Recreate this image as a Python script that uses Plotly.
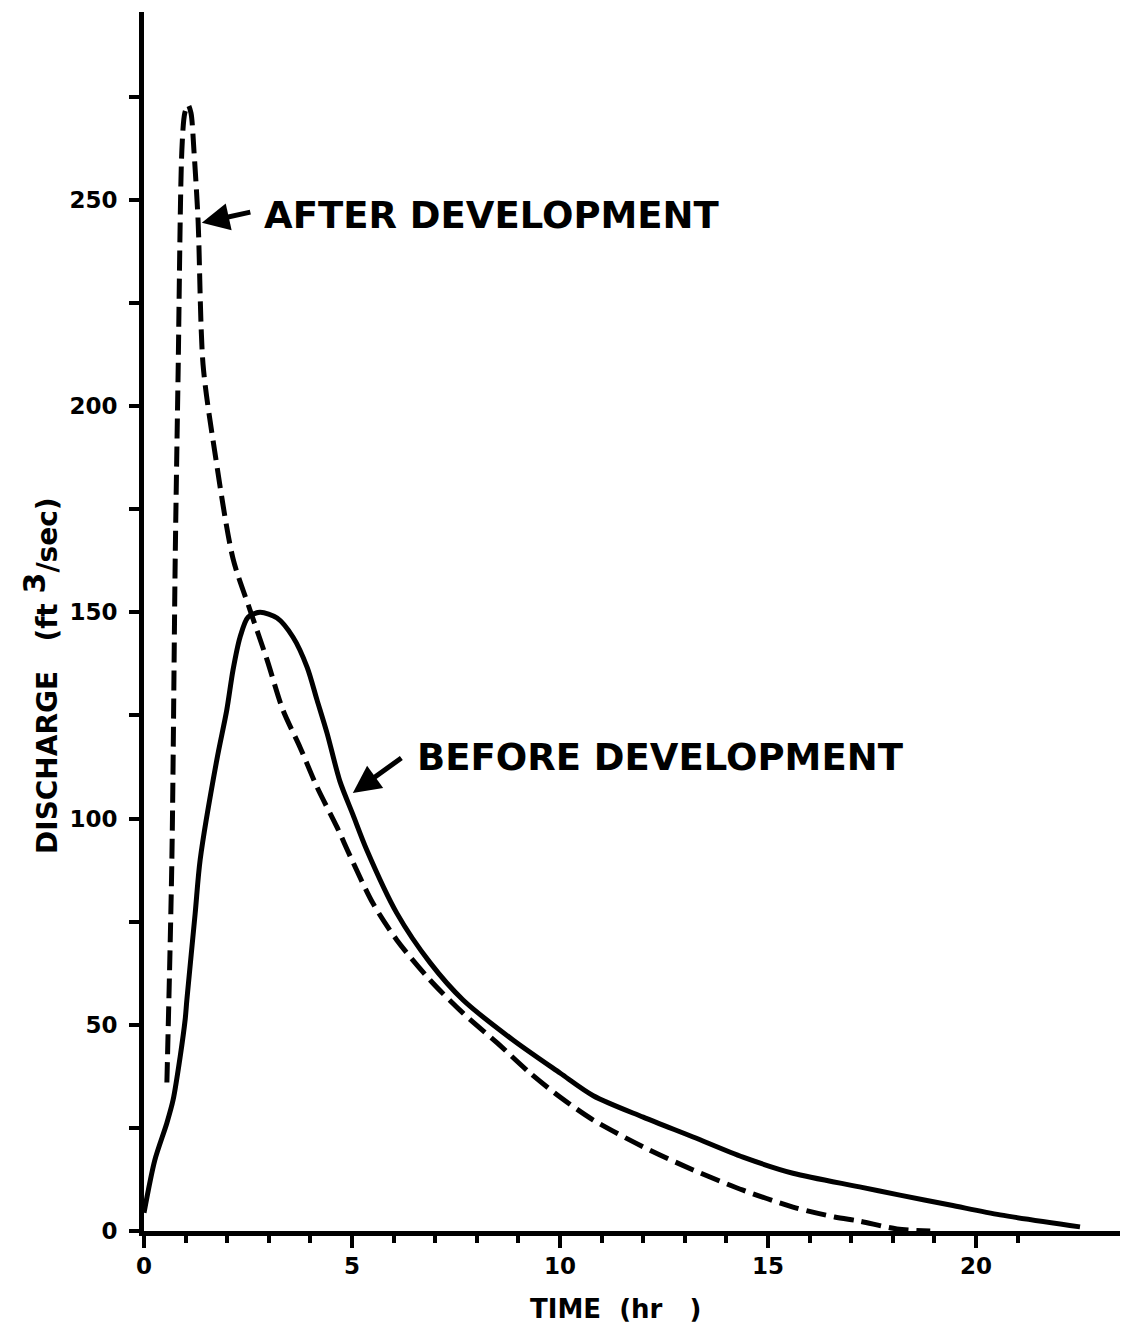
import plotly.graph_objects as go

# ---- data ----
after_t = [0.55, 0.67, 0.75, 0.82, 0.91, 0.98, 1.06, 1.13, 1.2, 1.3, 1.42, 1.7, 2.14, 2.55,
           2.96, 3.34, 3.75, 4.16, 4.64, 4.95, 5.5, 6.08, 6.88, 7.67, 8.49, 9.28, 10.0,
           10.8, 12.0, 13.2, 14.4, 15.6, 16.6, 17.2, 18.1, 18.9]
after_q = [36, 90, 162.7, 208, 262, 271, 273, 271, 262, 245, 210, 189, 163, 150.5,
           138.4, 126.3, 117.3, 107.6, 97.9, 91, 79.5, 70.5, 60.8, 52.8, 45.6, 38.3, 32.5,
           26.9, 20.4, 14.8, 9.9, 5.8, 3.4, 2.4, 0.5, 0.0]

before_t = [0.0, 0.26, 0.55, 0.7, 0.87, 0.99, 1.03, 1.23, 1.35, 1.75, 1.99, 2.14, 2.31, 2.5,
            2.79, 3.2, 3.58, 3.92, 4.16, 4.4, 4.71, 5.02, 5.35, 6.08, 6.88, 7.67, 8.87,
            10.0, 10.8, 12.0, 13.2, 14.4, 15.6, 17.2, 18.17, 19.38, 20.58, 22.5]
before_q = [4.4, 17.2, 26.2, 31.8, 42.3, 51.3, 56, 77, 90, 114.2, 126.3, 136, 144, 148.8,
            150, 148.6, 144, 136.7, 128.7, 120.7, 109, 101, 92.5, 77, 65, 56, 46.3,
            38.3, 32.8, 27.6, 22.8, 17.9, 14, 10.7, 8.7, 6.3, 3.9, 1.0]

x_major = [0, 5, 10, 15, 20]
x_major_text = ["0", "5", "10", "15", "20"]
x_minor = list(range(0, 22))
y_ticks = [0, 25, 50, 75, 100, 125, 150, 175, 200, 225, 250, 275]
y_ticktext = ["0", "", "50", "", "100", "", "150", "", "200", "", "250", ""]

FONT = "DejaVu Sans"
OFF = 8  # page body margin

W, H = 1130 - 2 * OFF, 1335 - 2 * OFF
L = 144 - OFF
T = 12 - OFF
R = W - (1120 - OFF)
B = H - (1231 - OFF)
PW, PH = W - L - R, H - T - B
XPX, YPX = 41.6, 4.125


def paper_x(px):
    return (px - OFF - L) / PW


def paper_y(py):
    return 1 - (py - OFF - T) / PH


fig = go.Figure()
fig.add_trace(go.Scatter(x=after_t, y=after_q, mode="lines",
                         line=dict(color="black", width=5, dash="20px,8px",
                                   shape="spline", smoothing=0.8),
                         showlegend=False))
fig.add_trace(go.Scatter(x=before_t, y=before_q, mode="lines",
                         line=dict(color="black", width=5, shape="spline", smoothing=0.8),
                         showlegend=False))

# Text labels with arrows
fig.add_annotation(x=1.39, y=244.4, xref="x", yref="y", text="",
                   showarrow=True, arrowhead=2, arrowsize=1.1, arrowwidth=5,
                   arrowcolor="black", ax=50, ay=-11, standoff=0)
fig.add_annotation(x=paper_x(262), y=paper_y(216), xref="paper", yref="paper",
                   text="AFTER DEVELOPMENT", showarrow=False, xanchor="left", yanchor="middle",
                   font=dict(family=FONT, size=37, color="black", weight="bold"))

fig.add_annotation(x=5.02, y=106.2, xref="x", yref="y", text="",
                   showarrow=True, arrowhead=2, arrowsize=1.1, arrowwidth=5,
                   arrowcolor="black", ax=50, ay=-36, standoff=0)
fig.add_annotation(x=paper_x(415), y=paper_y(757), xref="paper", yref="paper",
                   text="BEFORE DEVELOPMENT", showarrow=False, xanchor="left", yanchor="middle",
                   font=dict(family=FONT, size=37, color="black", weight="bold"))

# axis titles
fig.add_annotation(x=paper_x(615), y=paper_y(1309), xref="paper", yref="paper",
                   text="TIME&nbsp;&nbsp;(hr&nbsp;&nbsp;&nbsp;)", xanchor="center", yanchor="middle",
                   showarrow=False, borderpad=0,
                   font=dict(family=FONT, size=26, color="black", weight="bold"))
fig.add_annotation(x=paper_x(40), y=paper_y(676), xref="paper", yref="paper",
                   text="DISCHARGE&nbsp;&nbsp;&nbsp;(ft&nbsp;<sup><span style='font-size:30px'>3</span></sup>/sec)",
                   textangle=-90, xanchor="center", yanchor="middle",
                   showarrow=False, font=dict(family=FONT, size=28, color="black", weight="bold"))

fig.update_layout(
    width=W, height=H,
    margin=dict(l=L, r=R, t=T, b=B),
    paper_bgcolor="white", plot_bgcolor="white",
    font=dict(family=FONT, color="black"),
    xaxis=dict(range=[0, PW / XPX], showgrid=False, zeroline=False,
               showline=True, linewidth=5, linecolor="black",
               tickmode="array", tickvals=x_major, ticktext=x_major_text,
               ticks="outside", ticklen=12, tickwidth=4, tickcolor="black",
               ticklabelstandoff=-2,
               tickfont=dict(family=FONT, size=23, color="black", weight="bold"),
               minor=dict(tickmode="array", tickvals=x_minor, ticks="outside",
                          ticklen=7, tickwidth=4, tickcolor="black", showgrid=False)),
    yaxis=dict(range=[0, PH / YPX], showgrid=False, zeroline=False,
               showline=True, linewidth=5, linecolor="black",
               tickmode="array", tickvals=y_ticks, ticktext=y_ticktext,
               ticks="outside", ticklen=10, tickwidth=4, tickcolor="black",
               ticklabelstandoff=7,
               tickfont=dict(family=FONT, size=23, color="black", weight="bold")),
)

fig.write_html("out.html")
